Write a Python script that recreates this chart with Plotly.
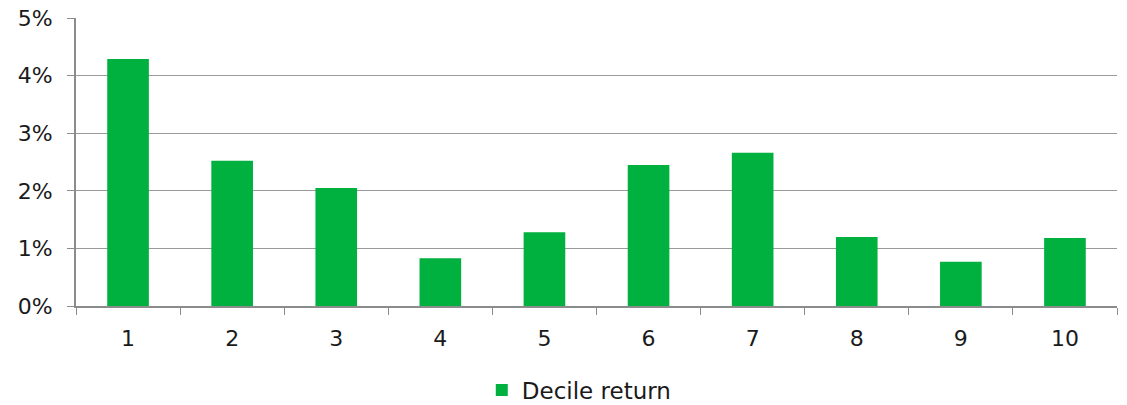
import plotly.graph_objects as go

deciles = ["1", "2", "3", "4", "5", "6", "7", "8", "9", "10"]
returns = [4.29, 2.52, 2.05, 0.83, 1.28, 2.45, 2.66, 1.20, 0.77, 1.18]
y_ticks = [0, 1, 2, 3, 4, 5]
y_tick_labels = ["0%", "1%", "2%", "3%", "4%", "5%"]

fig = go.Figure()
fig.add_trace(go.Bar(
    x=deciles, y=returns, name="Decile return",
    marker=dict(color="#00B140", line=dict(width=0)),
))

font_family = "DejaVu Sans, Verdana, sans-serif"
fig.update_layout(
    width=1127, height=405,
    margin=dict(l=76, r=10, t=18, b=99, autoexpand=False),
    paper_bgcolor="white", plot_bgcolor="white",
    bargap=0.6,
    font=dict(family=font_family, size=22, color="#1a1a1a"),
    showlegend=True,
    legend=dict(orientation="h", x=0.514, xanchor="center", xref="container",
                y=0.037, yanchor="middle", yref="container",
                font=dict(size=23), itemwidth=30),
)
fig.update_xaxes(
    type="category",
    showline=True, linecolor="#8c8c8c", linewidth=2,
    ticks="outside", tickson="boundaries", ticklen=7, tickcolor="#8c8c8c",
    showgrid=False, tickfont=dict(size=22), ticklabelstandoff=12,
)
fig.update_yaxes(
    range=[0, 5], tickvals=y_ticks, ticktext=y_tick_labels,
    showline=True, linecolor="#8c8c8c", linewidth=2,
    ticks="outside", ticklen=7, tickcolor="#8c8c8c",
    showgrid=True, gridcolor="#9a9a9a", gridwidth=1,
    zeroline=False, tickfont=dict(size=22), ticklabelstandoff=10,
)

fig.write_html("out.html")
